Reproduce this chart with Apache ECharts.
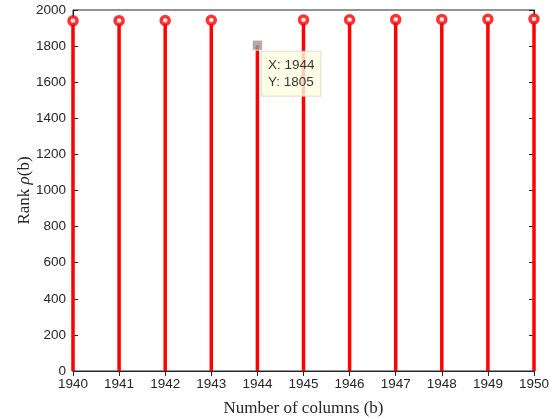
<!DOCTYPE html>
<html>
<head>
<meta charset="utf-8">
<script src="https://cdn.jsdelivr.net/npm/echarts@6/dist/echarts.min.js"></script>
<style>
  html, body { margin: 0; padding: 0; background: #fff; }
  #chart { width: 554px; height: 419px; }
</style>
</head>
<body>
<div id="chart"></div>
<script>
// Column counts and the rank found for each
const columns = [1940, 1941, 1942, 1943, 1944, 1945, 1946, 1947, 1948, 1949, 1950];
const ranks   = [1940, 1941, 1942, 1943, 1805, 1945, 1946, 1947, 1948, 1949, 1950];
const yTicks  = [0, 200, 400, 600, 800, 1000, 1200, 1400, 1600, 1800, 2000];

// Highlighted point (data tip)
const tipIndex = 4;

const axisColor = '#262626';
const red = '#ff0000';
const sans = '"Liberation Sans", Arial, sans-serif';
const serif = '"Liberation Serif", "Times New Roman", serif';
const tickFont = { fontFamily: sans, fontSize: 13.5, color: axisColor };

const pts = columns.map((c, i) => [c, ranks[i]]);
const tip = pts[tipIndex];

const chart = echarts.init(document.getElementById('chart'), null, { renderer: 'canvas' });
chart.setOption({
  animation: false,
  backgroundColor: '#fff',
  grid: {
    left: 73, right: 20, top: 10, bottom: 48,
    outerBoundsMode: 'none', containLabel: false,
    show: true, borderColor: axisColor, borderWidth: 1
  },
  xAxis: [{
    type: 'value', min: columns[0], max: columns[columns.length - 1], interval: 1,
    name: 'Number of columns (b)', nameLocation: 'middle', nameGap: 29,
    nameMoveOverlap: false,
    nameTextStyle: { fontFamily: serif, fontSize: 17, color: axisColor },
    axisLine: { lineStyle: { color: axisColor, width: 1 } },
    axisTick: { inside: true, length: 5, lineStyle: { color: axisColor } },
    axisLabel: Object.assign({ margin: 6, formatter: v => String(v) }, tickFont),
    splitLine: { show: false }
  }, {
    type: 'value', position: 'top', min: columns[0], max: columns[columns.length - 1], interval: 1,
    axisLine: { lineStyle: { color: axisColor } },
    axisTick: { inside: true, length: 5, lineStyle: { color: axisColor } },
    axisLabel: { show: false }, splitLine: { show: false }
  }],
  yAxis: [{
    type: 'value', min: yTicks[0], max: yTicks[yTicks.length - 1], interval: 200,
    name: 'Rank {i|ρ}(b)', nameLocation: 'middle', nameGap: 40,
    nameMoveOverlap: false,
    nameTextStyle: {
      fontFamily: serif, fontSize: 17, color: axisColor,
      rich: { i: { fontFamily: serif, fontSize: 17, fontStyle: 'italic', color: axisColor } }
    },
    axisLine: { show: true, lineStyle: { color: axisColor, width: 1 } },
    axisTick: { show: true, inside: true, length: 5, lineStyle: { color: axisColor } },
    axisLabel: Object.assign({ margin: 7, formatter: v => String(v) }, tickFont),
    splitLine: { show: false }
  }, {
    type: 'value', position: 'right', min: yTicks[0], max: yTicks[yTicks.length - 1], interval: 200,
    axisLine: { show: true, lineStyle: { color: axisColor } },
    axisTick: { show: true, inside: true, length: 5, lineStyle: { color: axisColor } },
    axisLabel: { show: false }, splitLine: { show: false }
  }],
  series: [{
    // stems
    type: 'bar', data: pts, barWidth: 3.5, itemStyle: { color: red }, z: 2
  }, {
    // stem heads
    type: 'scatter', data: pts.filter((p, i) => i !== tipIndex),
    symbol: 'circle', symbolSize: 8,
    itemStyle: { color: '#fff', borderColor: red, borderWidth: 3.5 }, z: 3
  }, {
    // data tip marker with its readout box
    type: 'scatter', data: [tip],
    symbol: 'rect', symbolSize: 10,
    itemStyle: { color: '#999999', borderColor: '#fffbd6', borderWidth: 1 },
    z: 5,
    label: {
      show: true, position: [10, 12],
      formatter: p => 'X: ' + p.value[0] + '\nY: ' + p.value[1],
      fontFamily: sans, fontSize: 13.5, color: '#000', lineHeight: 17,
      backgroundColor: '#ffffe1', borderColor: '#d8d8cc', borderWidth: 1,
      padding: [5, 6, 5, 6], align: 'left', verticalAlign: 'top'
    }
  }]
});
</script>
</body>
</html>
